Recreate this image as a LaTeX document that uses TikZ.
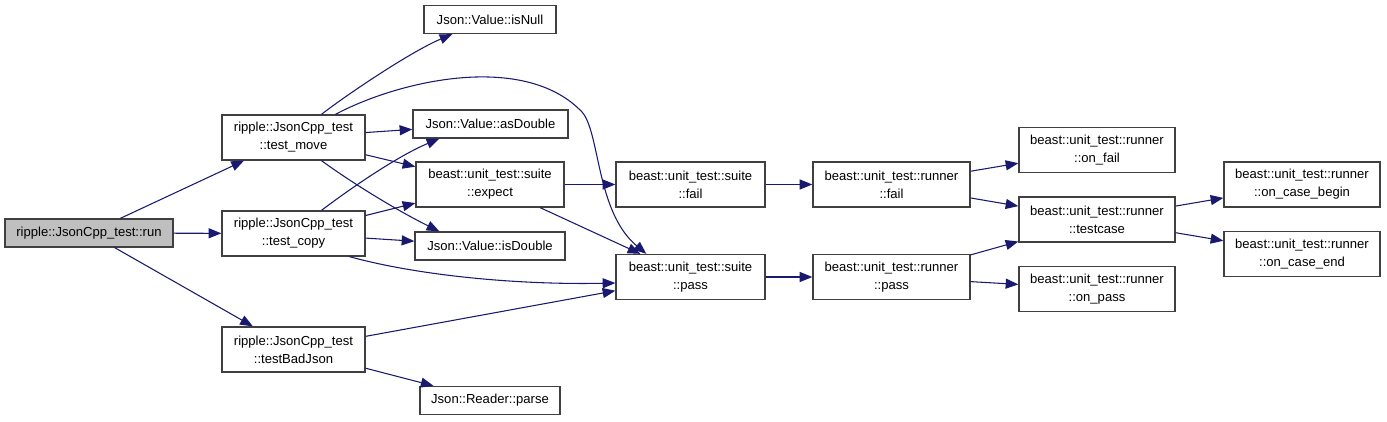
\documentclass[tikz,border=0pt]{standalone}
\usepackage{fontspec}
\setmainfont{Liberation Sans}
\usetikzlibrary{arrows.meta,calc}
\definecolor{edgeblue}{HTML}{191970}
\definecolor{rungrey}{HTML}{BFBFBF}
\begin{document}
\begin{tikzpicture}[font=\fontsize{9.8}{13.5}\selectfont,x=.75pt,y=-.75pt,
 fn/.style={draw=black!75,line width=1pt,inner sep=0pt,minimum height=21pt,align=center},
 fntwo/.style={fn,minimum height=33.75pt},
 call/.style={draw=edgeblue,line width=.8pt,-{Triangle[length=9.5pt,width=7.5pt]}}]
\useasboundingbox (0,0) rectangle (1387,421);
% callers
\node[fn,fill=rungrey,minimum width=126pt] (run) at (89,233) {ripple::JsonCpp\_test::run};
\node[fntwo,minimum width=107.25pt] (move) at (293.5,137.5) {ripple::JsonCpp\_test\\::test\_move};
\node[fntwo,minimum width=107.25pt] (copy) at (293.5,233.5) {ripple::JsonCpp\_test\\::test\_copy};
\node[fntwo,minimum width=107.25pt] (badjson) at (293.5,349.5) {ripple::JsonCpp\_test\\::testBadJson};
% Json and suite
\node[fn,minimum width=99pt] (isnull) at (490,19.5) {Json::Value::isNull};
\node[fn,minimum width=116.25pt] (asdouble) at (490.5,124) {Json::Value::asDouble};
\node[fntwo,minimum width=111pt] (expect) at (490,184.5) {beast::unit\_test::suite\\::expect};
\node[fn,minimum width=112.5pt] (isdouble) at (490,246) {Json::Value::isDouble};
\node[fn,minimum width=105pt] (parse) at (490,400.5) {Json::Reader::parse};
\node[fntwo,minimum width=111.75pt] (sfail) at (690.5,184.5) {beast::unit\_test::suite\\::fail};
\node[fntwo,minimum width=111.75pt] (spass) at (690.5,277) {beast::unit\_test::suite\\::pass};
% runner
\node[fntwo,minimum width=117.75pt] (rfail) at (891.5,184.5) {beast::unit\_test::runner\\::fail};
\node[fntwo,minimum width=117.75pt] (rpass) at (891.5,277) {beast::unit\_test::runner\\::pass};
\node[fntwo,minimum width=117pt] (onfail) at (1097,150) {beast::unit\_test::runner\\::on\_fail};
\node[fntwo,minimum width=117pt] (testcase) at (1097,219.5) {beast::unit\_test::runner\\::testcase};
\node[fntwo,minimum width=117pt] (onpass) at (1097,289) {beast::unit\_test::runner\\::on\_pass};
\node[fntwo,minimum width=117pt] (casebegin) at (1302,184.5) {beast::unit\_test::runner\\::on\_case\_begin};
\node[fntwo,minimum width=117pt] (caseend) at (1302,254) {beast::unit\_test::runner\\::on\_case\_end};
\foreach \a/\b in {run/move,run/copy,run/badjson,move/asdouble,move/expect,copy/expect,copy/isdouble,
 badjson/spass,badjson/parse,expect/sfail,expect/spass,sfail/rfail,spass/rpass,rfail/onfail,
 rfail/testcase,rpass/testcase,rpass/onpass,testcase/casebegin,testcase/caseend}{
 \draw[call] (\a) -- (\b);
}
% bent calls
\draw[call] ($(move.north)+(28,0)$) .. controls (345,96) and (410,52) .. ($(isnull.south west)+(29,0)$);
\draw[call] ($(move.north)+(42,0)$) .. controls (400,80) and (525,52) .. (582,112)
 .. controls (600,132) and (596,212) .. ($(spass.north west)+(31,0)$);
\draw[call] ($(move.south)+(28,0)$) .. controls (355,185) and (400,212) .. ($(isdouble.north west)+(25,0)$);
\draw[call] ($(copy.north)+(28,0)$) .. controls (355,185) and (400,155) .. ($(asdouble.south west)+(27,0)$);
\draw[call] ($(copy.south)+(56,0)$) .. controls (420,276) and (520,285) .. ($(spass.west)+(0,6)$);
\end{tikzpicture}
\end{document}
